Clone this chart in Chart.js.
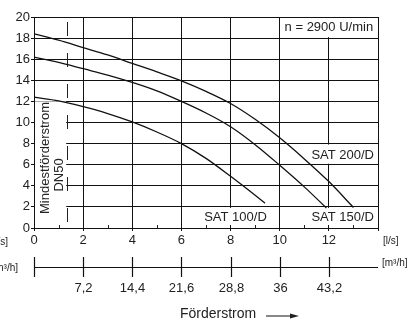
<!DOCTYPE html>
<html>
<head>
<meta charset="utf-8">
<script src="https://cdn.jsdelivr.net/npm/chart.js@4/dist/chart.umd.min.js"></script>
<style>
  html, body { margin: 0; padding: 0; background: #fff; }
  #wrap { width: 418px; height: 324px; }
</style>
</head>
<body>
<div id="wrap"><canvas id="kennlinie" width="418" height="324"></canvas></div>
<script>
// pump curves, Förderstrom [l/s] vs Förderhöhe [m]
var sat100X = [0, 1, 2, 3, 4, 5, 6, 7, 8, 9, 9.4];
var sat100Y = [12.4, 12.05, 11.5, 10.85, 10.05, 9.1, 8.0, 6.6, 4.9, 3.1, 2.35];
var sat150X = [0, 1, 2, 3, 4, 5, 6, 7, 8, 9, 10, 11, 11.9];
var sat150Y = [16.2, 15.7, 15.1, 14.5, 13.8, 13.0, 12.0, 10.9, 9.6, 7.9, 5.95, 3.9, 1.9];
var sat200X = [0, 1, 2, 3, 4, 5, 6, 7, 8, 9, 10, 11, 12, 13];
var sat200Y = [18.4, 17.8, 17.1, 16.4, 15.6, 14.8, 13.95, 12.95, 11.8, 10.3, 8.55, 6.55, 4.4, 1.95];
var seriesNames = ['SAT 100/D', 'SAT 150/D', 'SAT 200/D'];

// second axis: l/s ticks and their m³/h labels
var lsTicks = [0, 2, 4, 6, 8, 10, 12];
var m3hLabels = ['', '7,2', '14,4', '21,6', '28,8', '36', '43,2'];
var minFlow = 1.35; // Mindestförderstrom DN50

var FONT = '"Liberation Sans", Arial, sans-serif';
var TXT = '#222';

function pts(xs, ys) {
  return xs.map(function (x, i) { return { x: x, y: ys[i] }; });
}

var extras = {
  id: 'extras',
  beforeDatasetsDraw: function (chart) {
    var c = chart.ctx, xs = chart.scales.x, ys = chart.scales.y;
    var bottom = chart.chartArea.bottom;
    c.save();
    c.fillStyle = '#fff';
    function box(x0, x1, y0, y1, trimBottom) {
      var l = xs.getPixelForValue(x0) + 1, r = xs.getPixelForValue(x1) - 1;
      var t = ys.getPixelForValue(y1) + 1, b = ys.getPixelForValue(y0) - (trimBottom || 1);
      c.fillRect(l, t, r - l, b - t);
    }
    box(10, 14, 18, 20);
    box(10.3, 14, 6, 8);
    box(10.3, 14, 0, 2, 3);
    box(6.8, 9.6, 0, 2, 3);
    box(0, minFlow, 0, 12.1);
    // minor ticks on x
    c.strokeStyle = '#222';
    c.lineWidth = 1;
    for (var v = 1; v < 14; v += 2) {
      var px = Math.round(xs.getPixelForValue(v)) + 0.5;
      c.beginPath(); c.moveTo(px, bottom); c.lineTo(px, bottom - 3); c.stroke();
    }
    // Mindestförderstrom dashed line
    var dx = Math.round(xs.getPixelForValue(minFlow)) + 0.5;
    c.setLineDash([14, 17]);
    c.lineDashOffset = -5;
    c.beginPath(); c.moveTo(dx, chart.chartArea.top); c.lineTo(dx, bottom); c.stroke();
    c.restore();
  },
  afterDraw: function (chart) {
    var c = chart.ctx, xs = chart.scales.x, ys = chart.scales.y;
    c.save();
    c.fillStyle = TXT;
    c.textBaseline = 'middle';
    c.font = '13px ' + FONT;
    c.textAlign = 'right';
    c.fillText(seriesNames[2], xs.getPixelForValue(14) - 4, ys.getPixelForValue(7) + 1);
    c.fillText(seriesNames[1], xs.getPixelForValue(14) - 4, ys.getPixelForValue(1) + 0);
    c.textAlign = 'center';
    c.fillText(seriesNames[0], xs.getPixelForValue(8.2), ys.getPixelForValue(1) + 0);
    c.fillText('n = 2900 U/min', xs.getPixelForValue(12), ys.getPixelForValue(19));

    // rotated texts
    c.save();
    c.translate(xs.getPixelForValue(0) + 11, 158);
    c.rotate(-Math.PI / 2);
    c.fillText('Mindestförderstrom', 0, 0);
    c.restore();
    c.save();
    c.translate(xs.getPixelForValue(0) + 25, 175);
    c.rotate(-Math.PI / 2);
    c.fillText('DN50', 0, 0);
    c.restore();

    // units
    c.font = '10px ' + FONT;
    c.textAlign = 'left';
    c.fillText('[l/s]', 383, 241);
    c.fillText('[m³/h]', 382, 263);
    c.textAlign = 'right';
    c.fillText('[l/s]', 8, 242);
    c.fillText('[m³/h]', 18, 268);

    // second axis m³/h
    var ay = 267.5;
    c.strokeStyle = '#111';
    c.lineWidth = 1.2;
    c.beginPath();
    c.moveTo(xs.getPixelForValue(0), ay);
    c.lineTo(xs.getPixelForValue(14), ay);
    c.stroke();
    c.font = '13px ' + FONT;
    c.textAlign = 'center';
    lsTicks.forEach(function (v, i) {
      var px = Math.round(xs.getPixelForValue(v)) + 0.5;
      c.beginPath(); c.moveTo(px, 257); c.lineTo(px, 277); c.stroke();
      if (m3hLabels[i]) c.fillText(m3hLabels[i], px, 288);
    });

    // axis title with arrow
    c.font = '14px ' + FONT;
    c.textAlign = 'left';
    c.fillText('Förderstrom', 180, 314);
    c.lineWidth = 1;
    c.beginPath(); c.moveTo(266, 316); c.lineTo(292, 316); c.stroke();
    c.beginPath(); c.moveTo(299, 316); c.lineTo(290, 313.5); c.lineTo(290, 318.5); c.closePath(); c.fill();
    c.restore();
  }
};

function curve(label, xs, ys) {
  return {
    label: label,
    data: pts(xs, ys),
    borderColor: '#111',
    borderWidth: 1.3,
    pointRadius: 0,
    fill: false,
    cubicInterpolationMode: 'monotone'
  };
}

new Chart(document.getElementById('kennlinie').getContext('2d'), {
  type: 'line',
  data: {
    datasets: [
      curve(seriesNames[0], sat100X, sat100Y),
      curve(seriesNames[1], sat150X, sat150Y),
      curve(seriesNames[2], sat200X, sat200Y)
    ]
  },
  options: {
    responsive: false,
    animation: false,
    devicePixelRatio: 1,
    layout: { padding: { left: 0, top: 17, right: 40, bottom: 0 } },
    plugins: { legend: { display: false }, tooltip: { enabled: false } },
    scales: {
      x: {
        type: 'linear',
        min: 0,
        max: 14,
        afterFit: function (s) { s.height = 96; },
        ticks: {
          stepSize: 2,
          color: TXT,
          font: { family: FONT, size: 13 },
          padding: 2,
          maxRotation: 0,
          callback: function (v) { return v < 14 ? v : ''; }
        },
        grid: { color: '#111', lineWidth: 1, tickLength: 3 },
        border: { color: '#111', width: 1 }
      },
      y: {
        min: 0,
        max: 20,
        afterFit: function (s) { s.width = 34; },
        ticks: {
          stepSize: 2,
          color: TXT,
          font: { family: FONT, size: 13 },
          padding: 1
        },
        grid: { color: '#111', lineWidth: 1, tickLength: 3 },
        border: { color: '#111', width: 1 }
      }
    }
  },
  plugins: [extras]
});
</script>
</body>
</html>
